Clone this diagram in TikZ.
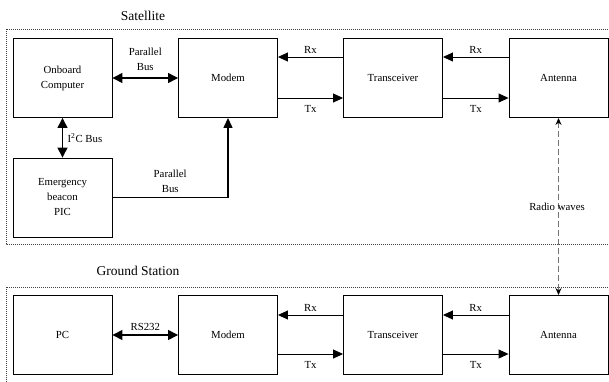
\documentclass[tikz,border=0pt]{standalone}
\usepackage{fontspec}
\setmainfont{Liberation Serif}
\usetikzlibrary{arrows.meta}
\begin{document}
\begin{tikzpicture}[x=1pt,y=-1pt,
  block/.style={draw, line width=0.9pt, minimum width=99pt, minimum height=79pt,
    inner sep=0pt, align=center, font=\fontsize{10.8}{15}\selectfont},
  lbl/.style={font=\fontsize{10.8}{15}\selectfont, align=center, inner sep=1.5pt},
  up/.style={lbl, above, yshift=2pt},
  down/.style={lbl, below, yshift=-5pt},
  title/.style={font=\fontsize{13.5}{16}\selectfont, inner sep=0pt},
  frame/.style={draw=black!75, line width=0.7pt, dash pattern=on 1pt off 1pt},
  tip/.style={-{Triangle[length=10pt,width=9pt]}},
  sig/.style={line width=0.9pt, tip},
  bus/.style={line width=1.3pt, {Triangle[length=10pt,width=10pt]}-{Triangle[length=10pt,width=10pt]}},
  radio/.style={draw=black!55, line width=1pt, dash pattern=on 6pt off 3pt,
    {Stealth[length=7pt,width=6pt,black]}-{Stealth[length=7pt,width=6pt,black]}}]
\useasboundingbox (0,0) rectangle (609,381);
\clip (0,0) rectangle (609,381);

% dotted enclosures of the two subsystems
\draw[frame] (6,29) rectangle (614,244);
\draw[frame] (6,287) rectangle (614,398);
\node[title] (sattitle) at (143,16) {Satellite};
\node[title] (gndtitle) at (138,271) {Ground Station};

% satellite blocks
\node[block] (obc) at (62.5,78) {Onboard\\Computer};
\node[block] (smod) at (228,78) {Modem};
\node[block] (strx) at (393,78) {Transceiver};
\node[block] (sant) at (558.5,78) {Antenna};
\node[block] (ebp) at (62.5,197.5) {Emergency\\beacon\\PIC};

% ground station blocks
\node[block] (pc) at (62.5,335) {PC};
\node[block] (gmod) at (228,335) {Modem};
\node[block] (gtrx) at (393,335) {Transceiver};
\node[block] (gant) at (558.5,335) {Antenna};

% satellite links
\draw[bus] (obc.east) -- node[up, yshift=3pt] {Parallel\\Bus} (smod.west);
\draw[bus] (obc.south) -- node[lbl, right, xshift=3pt] {I\textsuperscript{2}C Bus} (ebp.north);
\draw[sig, line width=1.3pt] (ebp.east) -- node[up, yshift=1pt] {Parallel\\Bus} (ebp.east -| smod.south) -- (smod.south);
\draw[sig] ([yshift=21pt]strx.west) -- node[up] {Rx} ([yshift=21pt]smod.east);
\draw[sig] ([yshift=-20pt]smod.east) -- node[down] {Tx} ([yshift=-20pt]strx.west);
\draw[sig] ([yshift=21pt]sant.west) -- node[up] {Rx} ([yshift=21pt]strx.east);
\draw[sig] ([yshift=-20pt]strx.east) -- node[down] {Tx} ([yshift=-20pt]sant.west);

% ground station links
\draw[bus] (pc.east) -- node[up] {RS232} (gmod.west);
\draw[sig] ([yshift=20pt]gtrx.west) -- node[up] {Rx} ([yshift=20pt]gmod.east);
\draw[sig] ([yshift=-19pt]gmod.east) -- node[down] {Tx} ([yshift=-19pt]gtrx.west);
\draw[sig] ([yshift=20pt]gant.west) -- node[up] {Rx} ([yshift=20pt]gtrx.east);
\draw[sig] ([yshift=-19pt]gtrx.east) -- node[down] {Tx} ([yshift=-19pt]gant.west);

% radio link between the antennas
\draw[radio] (sant.south) -- (gant.north);
\node[lbl] (radiolbl) at (557,207) {Radio waves};
\end{tikzpicture}
\end{document}
